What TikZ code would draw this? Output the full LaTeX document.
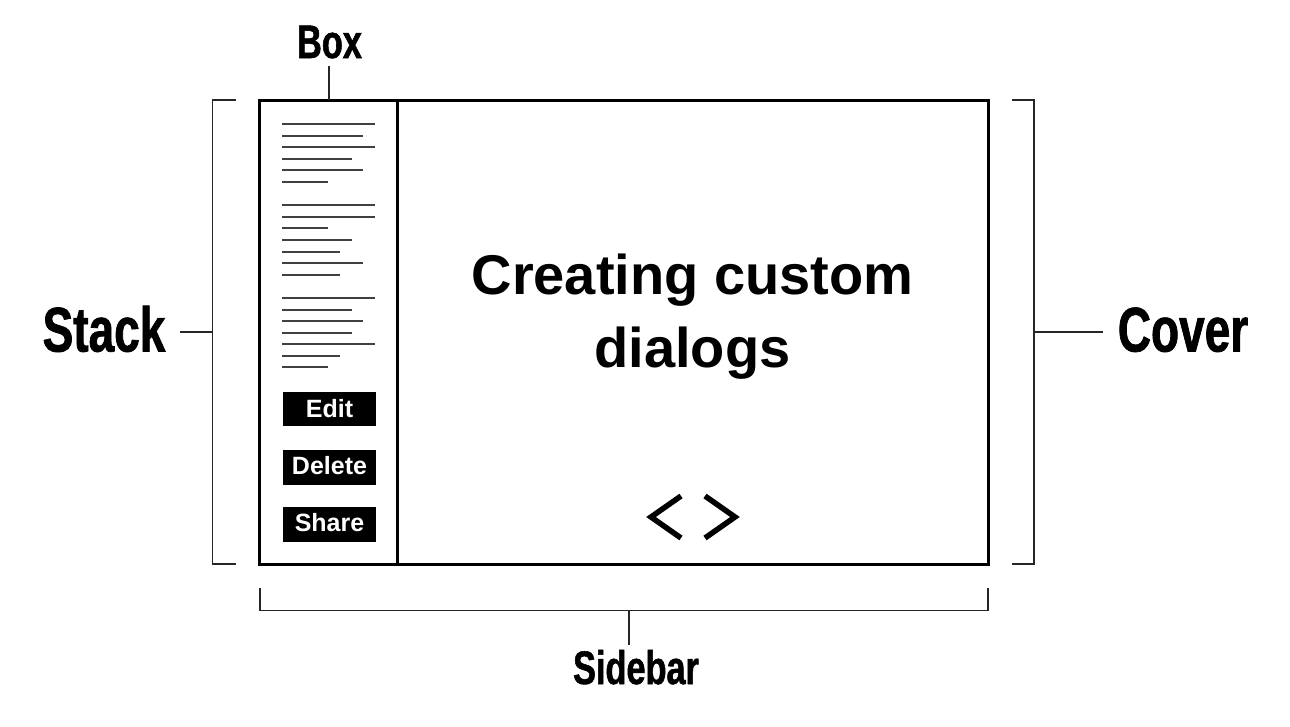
\documentclass[tikz,border=0pt]{standalone}
\usepackage{fontspec}
\setmainfont{Liberation Sans}
\newfontfamily\condfont{Liberation Sans}[FakeStretch=0.73,FakeBold=1.2]
\tikzset{
  frame/.style={line width=3pt, line join=miter},
  brk/.style={line width=1.5pt, draw=black!85},
  txtline/.style={line width=2pt, draw=black!75},
  btn/.style={fill=black},
  btntxt/.style={text=white, font=\bfseries\fontsize{25}{25}\selectfont, inner sep=0pt, anchor=base},
  biglabel/.style={font=\condfont\bfseries\fontsize{63}{63}\selectfont, inner sep=0pt, anchor=base},
  smalllabel/.style={font=\condfont\bfseries\fontsize{47}{47}\selectfont, inner sep=0pt, anchor=base},
  title/.style={font=\bfseries\fontsize{56}{56}\selectfont, inner sep=0pt, anchor=base},
  chev/.style={line width=5.5pt, line join=miter}
}
\begin{document}
\begin{tikzpicture}[x=1pt,y=-1pt]
\useasboundingbox[fill=white] (0,0) rectangle (1290,726);
% main frame
\coordinate (tl) at (259,100);
\coordinate (br) at (988,564);
\draw[frame] (tl) rectangle (br);
\coordinate (divtop) at (397,100);
\coordinate (divbot) at (397,564);
\draw[frame] (divtop) -- (divbot);
% sidebar text lines
\foreach \y/\e in {124/375,135.5/363,147/375,158.5/352,170/363,181.5/328,
                   205/375,216.5/375,228/328,240/352,251.5/340,263/363,274.5/340,
                   298/375,309.5/352,321/363,332.5/352,344/375,355.5/340,367/328}{
  \draw[txtline] (282,\y) -- (\e,\y);
}
% buttons
\fill[btn] (283,392) rectangle (376,426);
\fill[btn] (283,450) rectangle (376,485);
\fill[btn] (283,507) rectangle (376,542);
\node[btntxt] (edit) at (329.5,417) {Edit};
\node[btntxt] (delete) at (329.5,474.5) {Delete};
\node[btntxt] (share) at (329.5,531.5) {Share};
% title
\node[title] (t1) at (692.5,294) {Creating custom};
\node[title] (t2) at (692.5,367) {dialogs};
% chevrons
\draw[chev] (681,496) -- (651,517) -- (681,538);
\draw[chev] (705,496) -- (735,517) -- (705,538);
% Box label
\node[smalllabel] (box) at (329.5,58) {Box};
\coordinate (boxstem) at (329,66);
\coordinate (boxtop) at (329,100);
\draw[brk] (boxstem) -- (boxtop);
% Stack bracket
\coordinate (sb1) at (236,100);
\coordinate (sb2) at (212.5,100);
\coordinate (sb3) at (212.5,564);
\coordinate (sb4) at (236,564);
\draw[brk] (sb1) -- (sb2) -- (sb3) -- (sb4);
\node[biglabel] (stack) at (104,351.5) {Stack};
\coordinate (stackstub) at (180,332);
\coordinate (stackbr) at (212.5,332);
\draw[brk] (stackstub) -- (stackbr);
% Cover bracket
\coordinate (cb1) at (1012,100);
\coordinate (cb2) at (1034,100);
\coordinate (cb3) at (1034,564);
\coordinate (cb4) at (1012,564);
\draw[brk] (cb1) -- (cb2) -- (cb3) -- (cb4);
\node[biglabel] (cover) at (1183,351.5) {Cover};
\coordinate (coverstub) at (1103,332);
\coordinate (coverbr) at (1034,332);
\draw[brk] (coverstub) -- (coverbr);
% Sidebar bracket
\coordinate (hb1) at (260,588);
\coordinate (hb2) at (260,610.5);
\coordinate (hb3) at (988,610.5);
\coordinate (hb4) at (988,588);
\draw[brk] (hb1) -- (hb2) -- (hb3) -- (hb4);
\coordinate (sbstem) at (629,610.5);
\coordinate (sbstemend) at (629,645);
\draw[brk] (sbstem) -- (sbstemend);
\node[smalllabel] (sidebar) at (636,684) {Sidebar};
\end{tikzpicture}
\end{document}
